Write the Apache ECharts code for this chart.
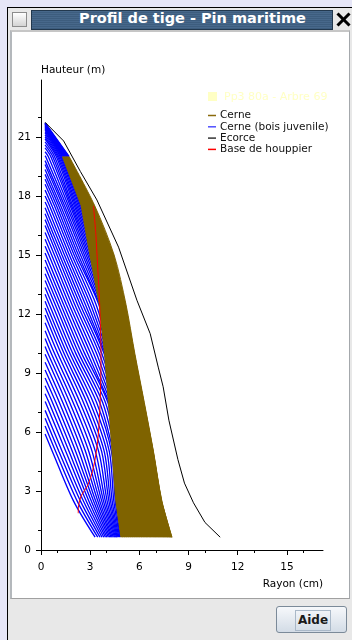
<!DOCTYPE html>
<html>
<head>
<meta charset="utf-8">
<title>Profil de tige - Pin maritime</title>
<script src="https://cdn.jsdelivr.net/npm/echarts@6.0.0/dist/echarts.min.js"></script>
<style>
  html, body { margin: 0; padding: 0; }
  body { width: 352px; height: 640px; overflow: hidden; position: relative; background: #e6e6f7; font-family: "DejaVu Sans", sans-serif; }
  .abs { position: absolute; box-sizing: border-box; }
  #frame { left: 7px; top: 7px; width: 360px; height: 650px; border: 1px solid #000; background: #e8e8e8; }
  #box { left: 12px; top: 12px; width: 15px; height: 15px; border: 1px solid #8c8c8c; background: linear-gradient(#ffffff, #d4d4d4); }
  #bar { left: 31px; top: 10px; width: 302px; height: 20px; border: 1px solid #22384e;
         background: repeating-linear-gradient(0deg, #3d5d7e 0 1px, #47688b 1px 2px); }
  #title { left: 79px; top: 10px; height: 20px; line-height: 17px; color: #fff; font: bold 14.5px "DejaVu Sans", sans-serif; white-space: nowrap; }
  #close { left: 336px; top: 12px; width: 15px; height: 15px; }
  #close i { position: absolute; left: -1px; top: 6px; width: 17px; height: 3px; background: #000; }
  #close i:first-child { transform: rotate(45deg); }
  #close i:last-child { transform: rotate(-45deg); }
  #panel { left: 10px; top: 30px; width: 340px; height: 569px; background: #fff;
           border-top: 2px solid #c6c6c6; border-left: 2px solid #b4b8bc; border-right: 1px solid #a4a8ac; border-bottom: 1px solid #a0a0a0; }
  #btn { left: 276px; top: 606px; width: 71px; height: 27px; border: 1px solid #7b8a99; border-radius: 3px;
         background: linear-gradient(#f6f8fb, #d3dce6); }
  #btn span { position: absolute; left: 18px; top: 3px; width: 34px; height: 19px; border: 1px solid #a9b8c8;
              font: bold 12px "DejaVu Sans", sans-serif; color: #1a1a1a; line-height: 18px; text-align: center; }
  #chart { left: 0; top: 0; width: 352px; height: 640px; z-index: 5; }
</style>
</head>
<body>
<div id="frame" class="abs"></div>
<div id="box" class="abs"></div>
<div id="bar" class="abs"></div>
<div id="title" class="abs">Profil de tige - Pin maritime</div>
<div id="close" class="abs"><i></i><i></i></div>
<div id="panel" class="abs"></div>
<div id="btn" class="abs"><span>Aide</span></div>
<div id="chart" class="abs"></div>
<script>
// heights (m) of the measured discs
const sectionHeights = [0.65, 2.5, 5, 7.5, 10, 12.5, 15, 17.5, 20];
// rings counted as juvenile wood on each disc (from the pith)
const juvenileCount = [20, 20, 20, 20, 20, 20, 20, 20, 11];

// height (m) reached by the tree at each ring = top of each ring line, pith outwards
const ringTops = [5.9, 6.3, 6.7, 7.1, 7.55, 7.95, 8.35, 8.75, 9.15, 9.55, 9.95, 10.35, 10.75, 11.15,
  11.55, 11.95, 12.3, 12.65, 13.0, 13.35, 13.7, 14.05, 14.4, 14.75, 15.1, 15.45, 15.8, 16.15, 16.5,
  16.8, 17.1, 17.4, 17.7, 18.0, 18.3, 18.6, 18.85, 19.1, 19.35, 19.6, 19.8, 20.05, 20.25, 20.45,
  20.6, 20.75, 20.9, 21.0, 21.1, 21.2, 21.28, 21.35, 21.41, 21.46, 21.5, 21.54, 21.58, 21.61,
  21.64, 21.66, 21.68, 21.7, 21.71, 21.72];
const ringTopRadius = 0.25;

// ring radii (cm) on each disc, for the rings present on it, pith outwards
const disc0_65 = [3.3, 3.46, 3.6, 3.72, 3.83, 3.93, 4.02, 4.11, 4.19, 4.27, 4.34, 4.41, 4.48, 4.54,
  4.6, 4.65, 4.7, 4.75, 4.8, 4.84,
  4.96, 5.08, 5.2, 5.32, 5.44, 5.56, 5.68, 5.8, 5.91, 6.02, 6.13, 6.23, 6.33, 6.42, 6.51, 6.6, 6.68,
  6.76, 6.84, 6.91, 6.98, 7.05, 7.12, 7.18, 7.24, 7.3, 7.36, 7.42, 7.47, 7.52, 7.57, 7.62, 7.67,
  7.71, 7.75, 7.79, 7.83, 7.86, 7.89, 7.92, 7.94, 7.96, 7.98, 7.99];
const disc2_5 = [1.98, 2.2, 2.4, 2.58, 2.75, 2.91, 3.06, 3.2, 3.33, 3.46, 3.58, 3.7, 3.81, 3.92,
  4.03, 4.14, 4.24, 4.34, 4.44, 4.53,
  4.64, 4.75, 4.86, 4.97, 5.08, 5.19, 5.3, 5.41, 5.51, 5.61, 5.71, 5.8, 5.89, 5.98, 6.06, 6.14, 6.22,
  6.29, 6.36, 6.43, 6.5, 6.56, 6.62, 6.68, 6.74, 6.8, 6.85, 6.9, 6.95, 7.0, 7.05, 7.09, 7.13, 7.17,
  7.2, 7.23, 7.26, 7.28, 7.3, 7.32, 7.33, 7.34, 7.36, 7.37];
const disc5 = [0.7, 0.9, 1.1, 1.3, 1.52, 1.72, 1.92, 2.12, 2.32, 2.52, 2.72, 2.92, 3.12, 3.32, 3.52,
  3.7, 3.86, 4.02, 4.17, 4.3,
  4.41, 4.52, 4.63, 4.74, 4.85, 4.95, 5.05, 5.15, 5.25, 5.34, 5.43, 5.52, 5.6, 5.68, 5.76, 5.84, 5.91,
  5.98, 6.05, 6.12, 6.18, 6.24, 6.3, 6.35, 6.4, 6.45, 6.5, 6.54, 6.58, 6.62, 6.65, 6.68, 6.71, 6.73,
  6.75, 6.77, 6.79, 6.8, 6.81, 6.82, 6.83, 6.84, 6.85, 6.86];
const disc7_5 = [0.28, 0.49, 0.7, 0.91, 1.12, 1.33, 1.54, 1.75, 1.96, 2.17, 2.38, 2.59, 2.79, 2.99,
  3.19, 3.39, 3.58, 3.76, 3.93, 4.08,
  4.17, 4.26, 4.36, 4.45, 4.54, 4.63, 4.72, 4.82, 4.91, 5.0, 5.07, 5.14, 5.21, 5.28, 5.35, 5.42, 5.49,
  5.56, 5.63, 5.7, 5.74, 5.78, 5.82, 5.86, 5.9, 5.94, 5.98, 6.02, 6.06, 6.1, 6.12, 6.14, 6.16, 6.18,
  6.2, 6.22, 6.24, 6.26, 6.28, 6.3];
const disc10 = [0.42, 0.62, 0.82, 1.02, 1.22, 1.4, 1.58, 1.76, 1.94, 2.12, 2.3, 2.48, 2.66, 2.84,
  3.02, 3.2, 3.38, 3.55, 3.7, 3.84,
  3.92, 4.0, 4.08, 4.16, 4.24, 4.32, 4.4, 4.48, 4.56, 4.64, 4.7, 4.76, 4.82, 4.88, 4.94, 5.0, 5.06,
  5.12, 5.18, 5.24, 5.28, 5.32, 5.36, 5.4, 5.44, 5.48, 5.52, 5.56, 5.59, 5.62, 5.66, 5.69, 5.72];
const disc12_5 = [0.32, 0.5, 0.68, 0.86, 1.03, 1.2, 1.37, 1.54, 1.71, 1.88, 2.05, 2.22, 2.38, 2.54,
  2.7, 2.86, 3.02, 3.18, 3.35, 3.52,
  3.6, 3.69, 3.77, 3.86, 3.94, 4.03, 4.11, 4.2, 4.28, 4.34, 4.4, 4.46, 4.52, 4.58, 4.64, 4.7, 4.76,
  4.82, 4.86, 4.9, 4.94, 4.98, 5.02, 5.06, 5.1, 5.14, 5.18];
const disc15 = [0.3, 0.48, 0.65, 0.82, 0.98, 1.13, 1.28, 1.43, 1.58, 1.73, 1.88, 2.02, 2.15, 2.28,
  2.41, 2.54, 2.65, 2.76, 2.86, 2.95,
  3.05, 3.15, 3.25, 3.35, 3.45, 3.55, 3.65, 3.72, 3.79, 3.86, 3.93, 4.0, 4.07, 4.14, 4.19, 4.25, 4.3,
  4.35, 4.41, 4.46];
const disc17_5 = [0.36, 0.52, 0.67, 0.82, 0.95, 1.08, 1.2, 1.33, 1.44, 1.56, 1.67, 1.78, 1.86, 1.94,
  2.03, 2.11, 2.19, 2.27, 2.35, 2.42,
  2.52, 2.62, 2.71, 2.8, 2.88, 2.95, 3.02, 3.08, 3.14, 3.19, 3.24, 3.28];
const disc20 = [0.29, 0.45, 0.6, 0.72, 0.83, 0.94, 1.02, 1.09, 1.16, 1.22, 1.28,
  1.33, 1.38, 1.42, 1.46, 1.5, 1.54, 1.57, 1.6, 1.63, 1.66, 1.69, 1.72];

// bark (ecorce) profile
const barkRadius = [0.25, 1.38, 2.4, 3.41, 4.73, 5.85, 6.66, 7.15, 7.45, 7.8, 8.35, 8.75, 9.3, 10.0, 10.93];
const barkHeight = [21.75, 20.8, 19.25, 17.8, 15.4, 12.7, 11.0, 9.3, 8.3, 6.6, 4.6, 3.4, 2.4, 1.4, 0.65];

// crown base (base de houppier)
const crownRadius = [3.2, 3.35, 3.45, 3.55, 3.62, 3.66, 3.64, 3.58, 3.45, 3.2, 2.85, 2.45, 2.3, 2.27];
const crownHeight = [17.5, 16.0, 14.5, 13.0, 11.5, 10.0, 8.5, 7.0, 5.5, 4.2, 3.3, 2.75, 2.3, 1.87];

const xTicks = [0, 3, 6, 9, 12, 15];
const xMinorTicks = [1, 4, 7, 10, 13, 16];
const yTicks = [0, 3, 6, 9, 12, 15, 18, 21];
const yMinorTicks = [1, 4, 7, 10, 13, 16, 19, 22];

const legendItems = ['Cerne', 'Cerne (bois juvenile)', 'Ecorce', 'Base de houppier'];
const legendColors = ['#8a6a0c', '#5050ff', '#333333', '#ff0000'];

const OLIVE = '#7f6300';
const BLUE = '#0000ff';
const FONT = '"DejaVu Sans", sans-serif';

const discs = [disc0_65, disc2_5, disc5, disc7_5, disc10, disc12_5, disc15, disc17_5, disc20];
const K = ringTops.length;

// each ring: its top, then its radius on every disc below it
const rings = ringTops.map(t => [{ r: ringTopRadius, h: t, juv: true }]);
for (let j = discs.length - 1; j >= 0; j--) {
  const first = K - discs[j].length;
  discs[j].forEach((r, i) => {
    rings[first + i].push({ r: r, h: sectionHeights[j], juv: i < juvenileCount[j] });
  });
}

const lineSeries = (data, color, width, z) => ({
  type: 'line', data: data, symbol: 'none', showSymbol: false, silent: true,
  smooth: 0.3, lineStyle: { color: color, width: width }, z: z
});

const oliveSeries = [], blueSeries = [];
rings.forEach(pts => {
  let n = 0;
  while (n < pts.length && pts[n].juv) n++;
  const xy = pts.map(p => [p.r, p.h]);
  blueSeries.push(lineSeries(xy.slice(0, Math.min(n + 1, xy.length)), BLUE, 1.35, 1));
  if (n < pts.length) oliveSeries.push(lineSeries(xy.slice(n), OLIVE, 1, 3));
});

// mature wood band: outer ring up, then back down along the last juvenile ring of each disc
const band = [];
discs.forEach((d, j) => band.push([d[d.length - 1], sectionHeights[j]]));
for (let j = discs.length - 1; j >= 0; j--) band.push([discs[j][juvenileCount[j] - 1], sectionHeights[j]]);

const bark = barkRadius.map((r, i) => [r, barkHeight[i]]);
const crown = crownRadius.map((r, i) => [r, crownHeight[i]]);

const legendGraphic = [
  { type: 'rect', shape: { x: 208, y: 92, width: 9, height: 9 }, style: { fill: '#ffffc4' } },
  { type: 'text', x: 224, y: 97, style: { text: 'Pp3 80a - Arbre 69', fill: '#ffffc4', font: '11px ' + FONT, verticalAlign: 'middle', textVerticalAlign: 'middle' } }
];
legendItems.forEach((name, i) => {
  const y = 115.5 + i * 11.3;
  legendGraphic.push({ type: 'line', shape: { x1: 208, y1: y, x2: 216, y2: y }, style: { stroke: legendColors[i], lineWidth: 1.5 } });
  legendGraphic.push({ type: 'text', x: 220, y: y, style: { text: name, fill: '#111', font: '10.5px ' + FONT, verticalAlign: 'middle', textVerticalAlign: 'middle' } });
});

const chart = echarts.init(document.getElementById('chart'));
chart.setOption({
  animation: false,
  backgroundColor: 'transparent',
  grid: { left: 41, right: 29, top: 80, bottom: 90, outerBoundsMode: 'none' },
  xAxis: [
    { type: 'value', min: 0, max: 17.2, position: 'bottom',
      axisLine: { onZero: false, lineStyle: { color: '#000', width: 1 } },
      axisTick: { length: 5, customValues: xTicks, lineStyle: { color: '#000' } },
      axisLabel: { customValues: xTicks, color: '#000', fontFamily: FONT, fontSize: 10.5, margin: 12 },
      splitLine: { show: false } },
    { type: 'value', min: 0, max: 17.2, position: 'bottom',
      axisLine: { show: false, onZero: false },
      axisTick: { length: 3, customValues: xMinorTicks, lineStyle: { color: '#000' } },
      axisLabel: { show: false }, splitLine: { show: false } }
  ],
  yAxis: [
    { type: 'value', min: 0, max: 23.9, position: 'left',
      axisLine: { show: true, onZero: false, lineStyle: { color: '#000', width: 1 } },
      axisTick: { show: true, length: 5, customValues: yTicks, lineStyle: { color: '#000' } },
      axisLabel: { customValues: yTicks, color: '#000', fontFamily: FONT, fontSize: 10.5, margin: 10 },
      splitLine: { show: false } },
    { type: 'value', min: 0, max: 23.9, position: 'left',
      axisLine: { show: false, onZero: false },
      axisTick: { show: true, length: 3, customValues: yMinorTicks, lineStyle: { color: '#000' } },
      axisLabel: { show: false }, splitLine: { show: false } }
  ],
  graphic: [
    { type: 'text', x: 41, y: 70, style: { text: 'Hauteur (m)', fill: '#000', font: '10.5px ' + FONT, verticalAlign: 'middle', textVerticalAlign: 'middle' } },
    { type: 'text', x: 323, y: 584, style: { text: 'Rayon (cm)', fill: '#000', font: '10.5px ' + FONT, align: 'right', textAlign: 'right', verticalAlign: 'middle', textVerticalAlign: 'middle' } }
  ].concat(legendGraphic),
  series: blueSeries.concat([
    { type: 'custom', silent: true, z: 2, data: [[0, 0]],
      renderItem: (params, api) => ({
        type: 'polygon',
        shape: { points: band.map(p => api.coord(p)) },
        style: { fill: OLIVE }
      }) }
  ], oliveSeries, [
    { type: 'line', name: 'Base de houppier', data: crown, symbol: 'none', silent: true, smooth: 0.3,
      lineStyle: { color: '#ff0000', width: 1 }, z: 4 },
    { type: 'line', name: 'Ecorce', data: bark, symbol: 'none', silent: true,
      lineStyle: { color: '#000', width: 1 }, z: 4 }
  ])
});
</script>
</body>
</html>
